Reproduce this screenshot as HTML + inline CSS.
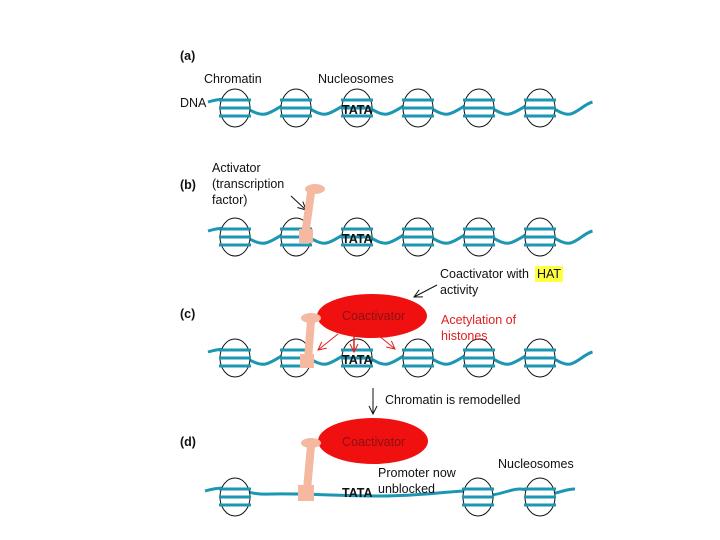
<!DOCTYPE html>
<html><head><meta charset="utf-8"><style>
html,body{margin:0;padding:0;background:#fff}
svg{display:block}
text{font-family:"Liberation Sans",sans-serif;font-size:12.5px;fill:#111}
.b{font-weight:bold}
</style></head><body>
<svg width="720" height="540" viewBox="0 0 720 540" xmlns="http://www.w3.org/2000/svg">
<defs>
<g id="nuc">
 <ellipse cx="0" cy="0" rx="15" ry="19" fill="#fff" stroke="#111" stroke-width="1"/>
 <path d="M-16,-8 H16 M-16,0 H16 M-16,8 H16" stroke="#1b97b3" stroke-width="3" fill="none"/>
</g>
<path id="wave" d="M208,-6 c10,-3 17,-4 27,0 c10,4 20.5,14 30.5,12 c10,-2 20.5,-14 30.5,-12 c10,2 20.5,14 30.5,12 c10,-2 20.5,-14 30.5,-12 c10,2 20.5,14 30.5,12 c10,-2 20.5,-14 30.5,-12 c10,2 20.5,14 30.5,12 c10,-2 20.5,-14 30.5,-12 c10,2 20.5,14 30.5,12 c10,-2 20.5,-14 30.5,-12 c10,2 20.5,14 30.5,12 c8,-2 14,-10 22,-12" stroke="#1b97b3" stroke-width="3" fill="none"/>
<g id="row">
 <use href="#wave"/>
 <use href="#nuc" x="235"/><use href="#nuc" x="296"/><use href="#nuc" x="357"/>
 <use href="#nuc" x="418"/><use href="#nuc" x="479"/><use href="#nuc" x="540"/>
 <text x="342" y="6" class="b" font-size="12">TATA</text>
</g>
<marker id="ah" markerWidth="10" markerHeight="10" refX="9" refY="5" orient="auto" markerUnits="userSpaceOnUse"><path d="M1,1 L9,5 L1,9" fill="none" stroke="#111" stroke-width="1"/></marker>
<marker id="ahr" markerWidth="10" markerHeight="10" refX="9" refY="5" orient="auto" markerUnits="userSpaceOnUse"><path d="M1,1 L9,5 L1,9" fill="none" stroke="#e02020" stroke-width="1"/></marker>
</defs>

<text x="180" y="60" class="b">(a)</text>
<text x="204" y="83">Chromatin</text>
<text x="318" y="83">Nucleosomes</text>
<text x="180" y="107">DNA</text>
<use href="#row" y="108"/>

<text x="180" y="189" class="b">(b)</text>
<text x="212" y="172">Activator</text>
<text x="212" y="188">(transcription</text>
<text x="212" y="204">factor)</text>
<line x1="291" y1="196" x2="306" y2="210" stroke="#111" marker-end="url(#ah)"/>
<use href="#row" y="237"/>
<g fill="#f5b8a0">
 <path d="M307,192 L315,193 L309,236 L301,235 Z"/>
 <ellipse cx="315" cy="189" rx="10" ry="5"/>
 <rect x="299" y="229" width="14" height="14"/>
</g>

<text x="440" y="278">Coactivator with</text>
<rect x="535" y="266" width="28" height="16" fill="#ffff44"/>
<text x="537" y="278">HAT</text>
<text x="440" y="294">activity</text>
<line x1="437" y1="285" x2="414" y2="297" stroke="#111" marker-end="url(#ah)"/>
<text x="180" y="318" class="b">(c)</text>
<use href="#row" y="358"/>
<ellipse cx="372" cy="316" rx="55" ry="22" fill="#f01010"/>
<text x="342" y="320" style="fill:#8a1010">Coactivator</text>
<text x="441" y="324" style="fill:#e02020">Acetylation of</text>
<text x="441" y="340" style="fill:#e02020">histones</text>
<line x1="338" y1="334" x2="318" y2="350" stroke="#e02020" marker-end="url(#ahr)"/>
<line x1="354" y1="334" x2="354" y2="352" stroke="#e02020" stroke-width="1.5" marker-end="url(#ahr)"/>
<line x1="378" y1="335" x2="395" y2="349" stroke="#e02020" marker-end="url(#ahr)"/>
<g fill="#f5b8a0">
 <path d="M307,320 L315,321 L312,360 L304,359 Z"/>
 <ellipse cx="311" cy="318" rx="10" ry="5"/>
 <rect x="300" y="354" width="14" height="14"/>
</g>

<line x1="373" y1="388" x2="373" y2="414" stroke="#111" marker-end="url(#ah)"/>
<text x="385" y="404">Chromatin is remodelled</text>

<text x="180" y="446" class="b">(d)</text>
<path d="M205,491 c10,-3 20,-4 30,-2 c10,2 20,6 35,5 C300,493 340,496 380,496 C420,496 440,492 465,491 c10,0 15,4 25,4 c10,0 20,-6 30,-6 c10,0 15,6 30,5 c10,-1 15,-5 25,-5" stroke="#1b97b3" stroke-width="3" fill="none"/>
<use href="#nuc" x="235" y="497"/>
<use href="#nuc" x="478" y="497"/>
<use href="#nuc" x="540" y="497"/>
<ellipse cx="373" cy="441" rx="55" ry="23" fill="#f01010"/>
<text x="342" y="446" style="fill:#8a1010">Coactivator</text>
<g fill="#f5b8a0">
 <path d="M307,445 L315,446 L311,490 L303,489 Z"/>
 <ellipse cx="311" cy="443" rx="10" ry="5"/>
 <rect x="298" y="485" width="16" height="16"/>
</g>
<text x="498" y="468">Nucleosomes</text>
<text x="378" y="477">Promoter now</text>
<text x="378" y="493">unblocked</text>
<text x="342" y="497" class="b" font-size="12">TATA</text>
</svg>
</body></html>
